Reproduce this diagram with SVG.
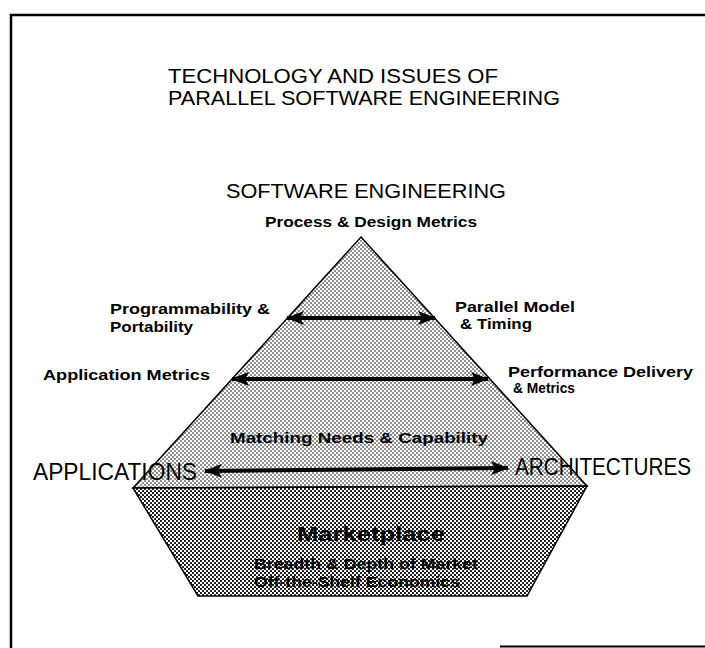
<svg xmlns="http://www.w3.org/2000/svg" width="705" height="648" viewBox="0 0 705 648">
<style>
.t{font-family:"Liberation Sans",Arial,sans-serif;fill:#000}
.big{font-size:21px}
.cap{font-size:23px}
.lab{font-size:15px;font-weight:bold}
.mk{font-size:21px;font-weight:bold}
.ar{stroke:#000;stroke-width:4;fill:none}
.sh{stroke:#000;stroke-width:1.5}
</style>
<defs>
<pattern id="lt" width="4" height="4" patternUnits="userSpaceOnUse">
<rect width="4" height="4" fill="#fff"/>
<circle cx="1" cy="1" r="0.8" fill="#000"/>
<circle cx="3" cy="3" r="0.8" fill="#000"/>
</pattern>
<pattern id="dk" width="4" height="4" patternUnits="userSpaceOnUse">
<rect width="4" height="4" fill="#fff"/>
<circle cx="1" cy="1" r="1.05" fill="#000"/>
<circle cx="3" cy="3" r="1.05" fill="#000"/>
</pattern>
<marker id="ah" viewBox="0 0 18 14" refX="17" refY="7" markerWidth="18" markerHeight="14" markerUnits="userSpaceOnUse" orient="auto-start-reverse">
<path d="M0,0 L18,7 L0,14 L4,7 Z" fill="#000"/>
</marker>
</defs>
<g id="frame" fill="none" stroke="#000">
<path d="M11,648 V15 H705" stroke-width="2.5"/>
<path d="M500,646.5 H705" stroke-width="2"/>
</g>
<g id="title">
<text class="t big" x="168" y="83" textLength="330" lengthAdjust="spacingAndGlyphs">TECHNOLOGY AND ISSUES OF</text>
<text class="t big" x="168" y="105" textLength="392" lengthAdjust="spacingAndGlyphs">PARALLEL SOFTWARE ENGINEERING</text>
</g>
<g id="pyramid">
<polygon class="sh" points="361,237 587,486 133,488" fill="url(#lt)"/>
</g>
<g id="marketplace">
<polygon class="sh" points="133,488 587,486 527,596 198,596" fill="url(#dk)"/>
<text class="t mk" x="297" y="541" textLength="148" lengthAdjust="spacingAndGlyphs">Marketplace</text>
<text class="t lab" x="254" y="569" textLength="224" lengthAdjust="spacingAndGlyphs">Breadth &amp; Depth of Market</text>
<text class="t lab" x="254" y="587" textLength="206" lengthAdjust="spacingAndGlyphs">Off-the-Shelf Economics</text>
</g>
<g id="software-engineering">
<text class="t big" x="226" y="198" textLength="280" lengthAdjust="spacingAndGlyphs">SOFTWARE ENGINEERING</text>
<text class="t lab" x="265" y="227" textLength="212" lengthAdjust="spacingAndGlyphs">Process &amp; Design Metrics</text>
</g>
<g id="programmability">
<text class="t lab" x="110" y="314" textLength="160" lengthAdjust="spacingAndGlyphs">Programmability &amp;</text>
<text class="t lab" x="110" y="332" textLength="83" lengthAdjust="spacingAndGlyphs">Portability</text>
</g>
<g id="parallel-model">
<text class="t lab" x="455" y="312" textLength="120" lengthAdjust="spacingAndGlyphs">Parallel Model</text>
<text class="t lab" x="460" y="329" textLength="72" lengthAdjust="spacingAndGlyphs">&amp; Timing</text>
</g>
<g id="application-metrics">
<text class="t lab" x="43" y="380" textLength="167" lengthAdjust="spacingAndGlyphs">Application Metrics</text>
</g>
<g id="performance">
<text class="t lab" x="508" y="377" textLength="185" lengthAdjust="spacingAndGlyphs">Performance Delivery</text>
<text class="t lab" x="513" y="393" textLength="62" lengthAdjust="spacingAndGlyphs">&amp; Metrics</text>
</g>
<g id="matching">
<text class="t lab" x="230" y="443" textLength="258" lengthAdjust="spacingAndGlyphs">Matching Needs &amp; Capability</text>
</g>
<g id="applications">
<text class="t cap" x="33" y="480" textLength="164" lengthAdjust="spacingAndGlyphs">APPLICATIONS</text>
</g>
<g id="architectures">
<text class="t cap" x="515" y="475" textLength="176" lengthAdjust="spacingAndGlyphs">ARCHITECTURES</text>
</g>
<g id="connectors">
<line class="ar" x1="287" y1="318" x2="435" y2="318" marker-start="url(#ah)" marker-end="url(#ah)"/>
<line class="ar" x1="232" y1="379" x2="488" y2="379" marker-start="url(#ah)" marker-end="url(#ah)"/>
<line class="ar" x1="205" y1="471" x2="508" y2="468" marker-start="url(#ah)" marker-end="url(#ah)"/>
</g>
</svg>
